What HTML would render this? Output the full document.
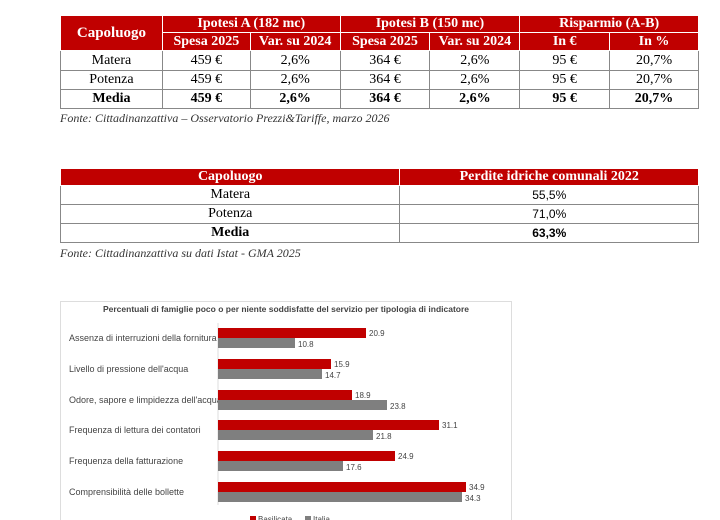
<!DOCTYPE html>
<html><head><meta charset="utf-8"><style>
body{margin:0;width:720px;height:520px;background:#fff;overflow:hidden;position:relative;font-family:"Liberation Serif",serif;}
table{position:absolute;border-collapse:collapse;left:60px;width:639px;font-size:14px;}
td,th{border:1px solid #888;text-align:center;padding:0;}
th{background:#c00000;color:#fff;font-weight:bold;border-color:#fff;}
.b td{font-weight:bold;}
.f{position:absolute;left:60px;font-style:italic;font-size:12px;color:#333;}
.s{font-family:"Liberation Sans",sans-serif;font-size:9px;fill:#444;}
</style></head><body>
<table style="top:15px">
<colgroup><col style="width:102px"><col style="width:88px"><col style="width:90px"><col style="width:90px"><col style="width:90px"><col style="width:90px"><col style="width:89px"></colgroup>
<tr style="height:17px"><th rowspan="2" style="font-size:15px">Capoluogo</th><th colspan="2">Ipotesi A (182 mc)</th><th colspan="2">Ipotesi B (150 mc)</th><th colspan="2">Risparmio (A-B)</th></tr>
<tr style="height:18px"><th>Spesa 2025</th><th>Var. su 2024</th><th>Spesa 2025</th><th>Var. su 2024</th><th>In €</th><th>In %</th></tr>
<tr style="height:20px"><td>Matera</td><td>459 €</td><td>2,6%</td><td>364 €</td><td>2,6%</td><td>95 €</td><td>20,7%</td></tr>
<tr style="height:19px"><td>Potenza</td><td>459 €</td><td>2,6%</td><td>364 €</td><td>2,6%</td><td>95 €</td><td>20,7%</td></tr>
<tr class="b" style="height:19px"><td>Media</td><td>459 €</td><td>2,6%</td><td>364 €</td><td>2,6%</td><td>95 €</td><td>20,7%</td></tr>
</table>
<div class="f" style="top:111px">Fonte: Cittadinanzattiva – Osservatorio Prezzi&amp;Tariffe, marzo 2026</div>
<table style="top:168px">
<colgroup><col style="width:340px"><col style="width:299px"></colgroup>
<tr style="height:17px"><th>Capoluogo</th><th>Perdite idriche comunali 2022</th></tr>
<tr style="height:19px"><td>Matera</td><td style="font-family:'Liberation Sans',sans-serif;font-size:12px">55,5%</td></tr>
<tr style="height:19px"><td>Potenza</td><td style="font-family:'Liberation Sans',sans-serif;font-size:12px">71,0%</td></tr>
<tr class="b" style="height:19px"><td>Media</td><td style="font-family:'Liberation Sans',sans-serif;font-size:12px">63,3%</td></tr>
</table>
<div class="f" style="top:246px">Fonte: Cittadinanzattiva su dati Istat - GMA 2025</div>
<svg style="position:absolute;left:0;top:0" width="720" height="520">
<rect x="60.5" y="301.5" width="451" height="230" fill="#fff" stroke="#ddd"/>
<text x="286" y="312" text-anchor="middle" class="s" style="font-weight:bold;font-size:8.5px">Percentuali di famiglie poco o per niente soddisfatte del servizio per tipologia di indicatore</text>
<line x1="218" y1="323" x2="218" y2="505" stroke="#ddd"/>
<g class="s">
<text x="69" y="341">Assenza di interruzioni della fornitura</text>
<text x="69" y="372">Livello di pressione dell'acqua</text>
<text x="69" y="403">Odore, sapore e limpidezza dell'acqua</text>
<text x="69" y="433">Frequenza di lettura dei contatori</text>
<text x="69" y="464">Frequenza della fatturazione</text>
<text x="69" y="495">Comprensibilità delle bollette</text>
</g>
<g fill="#c00000">
<rect x="218" y="328" width="148" height="10"/>
<rect x="218" y="359" width="113" height="10"/>
<rect x="218" y="390" width="134" height="10"/>
<rect x="218" y="420" width="221" height="10"/>
<rect x="218" y="451" width="177" height="10"/>
<rect x="218" y="482" width="248" height="10"/>
</g>
<g fill="#7f7f7f">
<rect x="218" y="338" width="77" height="10"/>
<rect x="218" y="369" width="104" height="10"/>
<rect x="218" y="400" width="169" height="10"/>
<rect x="218" y="430" width="155" height="10"/>
<rect x="218" y="461" width="125" height="10"/>
<rect x="218" y="492" width="244" height="10"/>
</g>
<g class="s" style="font-size:8px">
<text x="369" y="336">20.9</text><text x="298" y="347">10.8</text>
<text x="334" y="367">15.9</text><text x="325" y="378">14.7</text>
<text x="355" y="398">18.9</text><text x="390" y="409">23.8</text>
<text x="442" y="428">31.1</text><text x="376" y="439">21.8</text>
<text x="398" y="459">24.9</text><text x="346" y="470">17.6</text>
<text x="469" y="490">34.9</text><text x="465" y="501">34.3</text>
</g>
<rect x="250" y="516" width="6" height="6" fill="#c00000"/>
<text x="258" y="522" class="s" style="font-size:8px">Basilicata</text>
<rect x="305" y="516" width="6" height="6" fill="#7f7f7f"/>
<text x="313" y="522" class="s" style="font-size:8px">Italia</text>
</svg>
</body></html>
